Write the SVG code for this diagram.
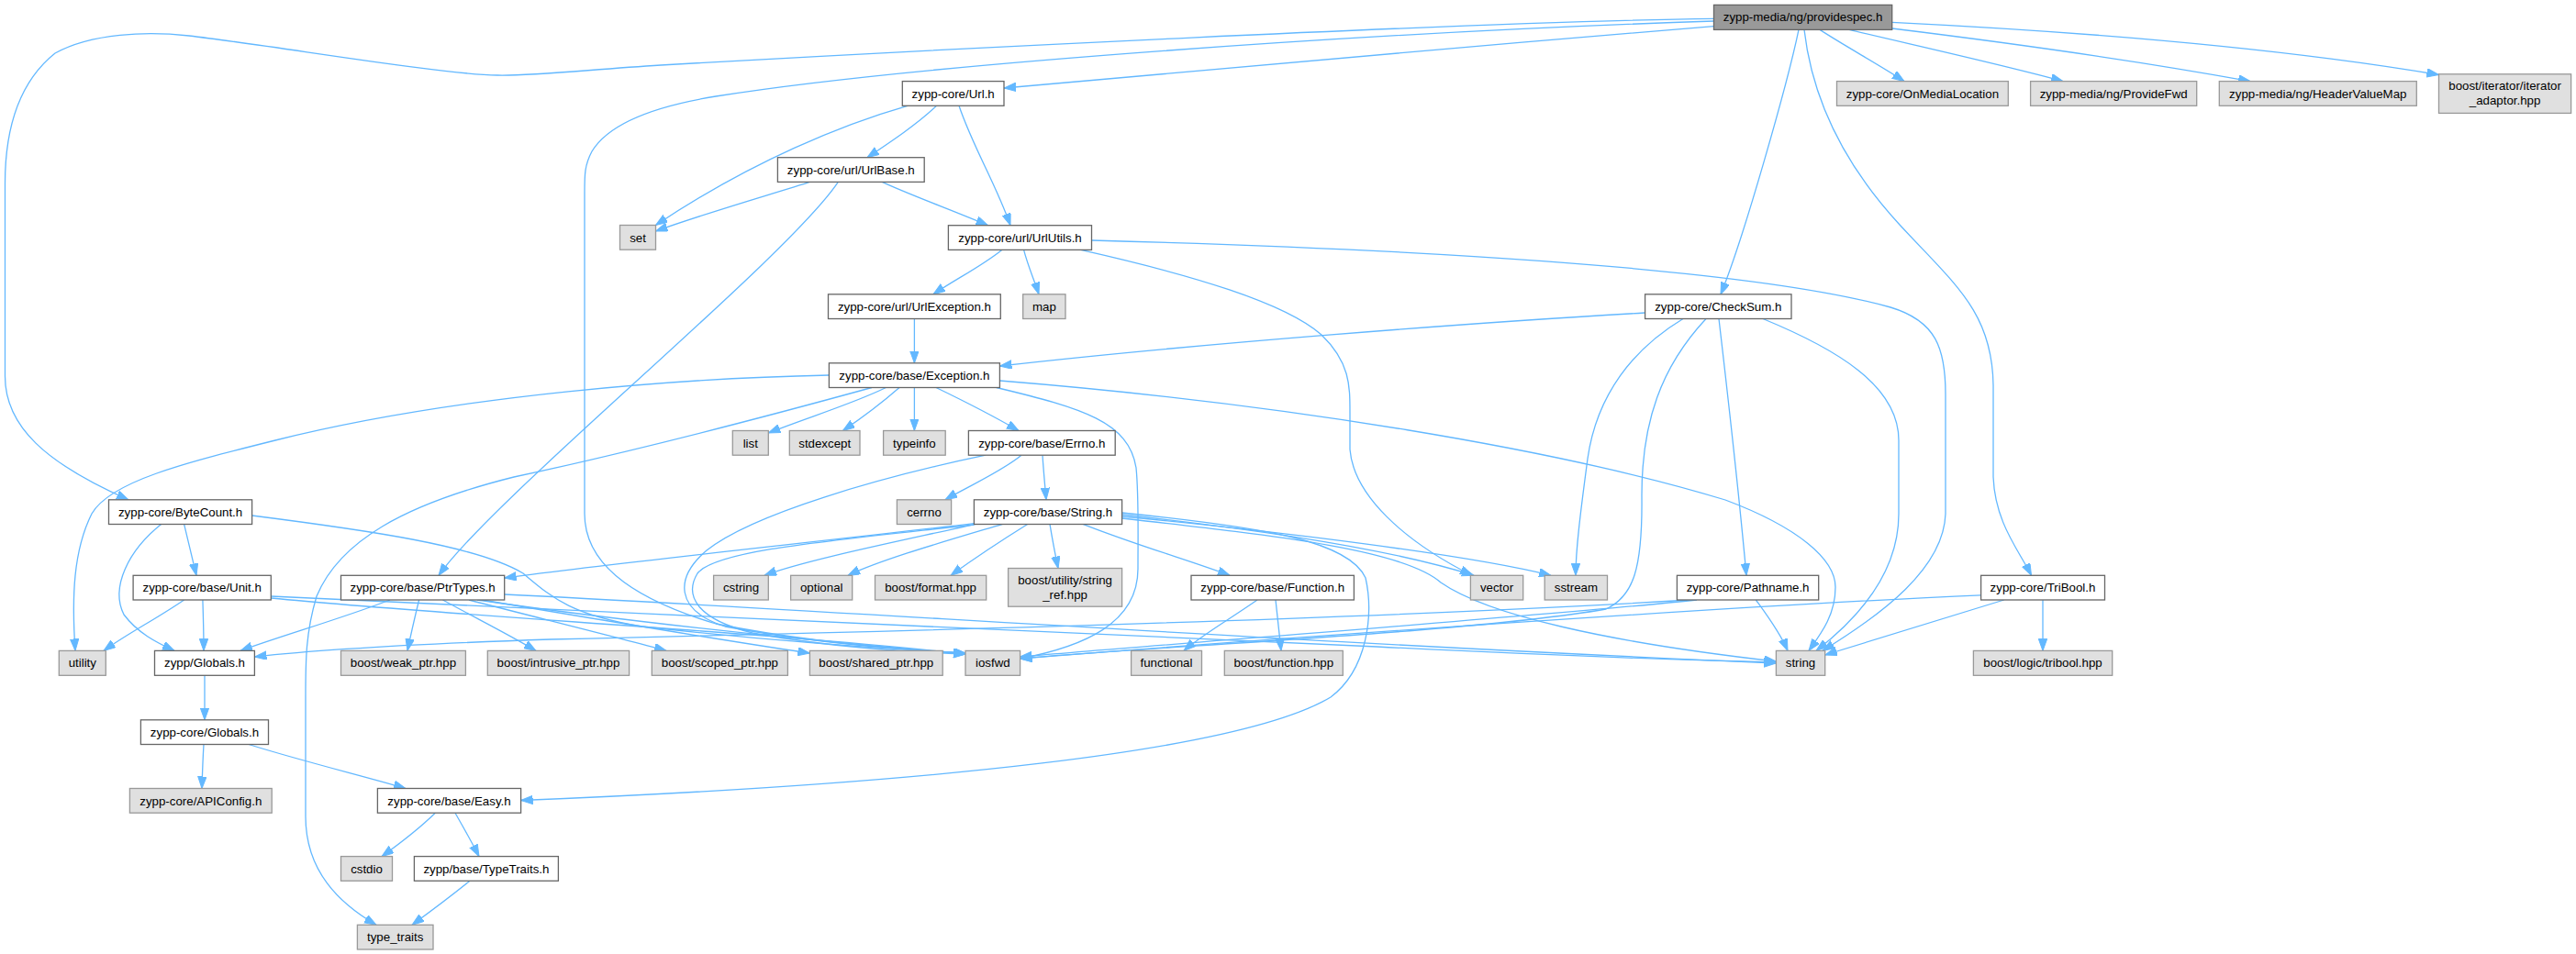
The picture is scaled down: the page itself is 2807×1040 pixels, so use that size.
<svg xmlns="http://www.w3.org/2000/svg" width="2807" height="1040" viewBox="0 0 2807 1040">
<style>
.e{fill:none;stroke:#63b8ff;stroke-width:1.3;marker-end:url(#a)}
.n{fill:#ffffff;stroke:#666666;stroke-width:1.3}
.x{fill:#e0e0e0;stroke:#999999;stroke-width:1.3}
.r{fill:#999999;stroke:#666666;stroke-width:1.3}
text{font-family:"Liberation Sans",Arial,sans-serif;font-size:13.3px;fill:#000000;text-anchor:middle}
</style>
<defs>
<marker id="a" markerUnits="userSpaceOnUse" markerWidth="14" markerHeight="10" refX="13" refY="4.7" orient="auto"><path d="M0,0 L13,4.7 L0,9.4 z" fill="#63b8ff" stroke="#63b8ff" stroke-width="1"/></marker>
</defs>
<rect width="2807" height="1040" fill="#ffffff"/>
<g id="edges">
<path class="e" d="M1867.5,20.3 C1600,24 1000,55 720,71 C640,76 580,83 542,82 C480,81 300,50 206,39 C160,34 100,36 60,58 C20,90 5.5,140 5.5,200 L5.5,410 C5.5,465 50,505 140,544.8"/>
<path class="e" d="M1867.5,28.7 C1600,50 1300,78 1094,96"/>
<path class="e" d="M1867.5,23 C1500,35 1000,70 780,105 C700,118 660,140 645,165 C637,180 637,190 637,210 L637,560 C637,610 680,650 780,680 C880,700 980,708 1052,712"/>
<path class="e" d="M1960,32.4 C1948,90 1900,260 1875,320.8"/>
<path class="e" d="M1983,32.4 C2010,50 2050,72 2075,88.6"/>
<path class="e" d="M2015,32.4 C2080,48 2180,70 2248,88.6"/>
<path class="e" d="M2061.7,31 C2200,48 2350,70 2452,88.6"/>
<path class="e" d="M2061.7,24.3 C2300,36 2500,55 2657.5,81.5"/>
<path class="e" d="M1966,32.4 C1975,110 2010,180 2070,245 C2130,310 2171,340 2172,420 L2172,520 C2174,570 2200,600 2213.5,627.3"/>
<path class="e" d="M989,115.3 C920,135 820,175 714.5,245.5"/>
<path class="e" d="M1020.5,115.3 C1000,135 970,155 945,171.7"/>
<path class="e" d="M1045,115.3 C1060,160 1085,200 1101,245.7"/>
<path class="e" d="M886,197.4 C830,215 770,232 714.5,252"/>
<path class="e" d="M959,197.4 C990,212 1040,230 1076.5,245.7"/>
<path class="e" d="M914,197.4 C860,280 540,540 478,627.3"/>
<path class="e" d="M1091.7,272.4 C1070,290 1040,305 1017,320.8"/>
<path class="e" d="M1115.6,272.4 C1120,290 1127,305 1132,320.8"/>
<path class="e" d="M1177.6,272.4 C1300,300 1400,330 1440,365 C1471,395 1471,420 1471,450 L1471,490 C1475,540 1530,590 1604,627.3"/>
<path class="e" d="M1189.5,262 C1500,270 1900,290 2060,335 C2110,350 2120,380 2120,430 L2120,560 C2118,620 2050,670 1986,709.4"/>
<path class="e" d="M996.4,347.5 L996.4,395.8"/>
<path class="e" d="M1792.6,341 C1600,352 1300,375 1089.4,399"/>
<path class="e" d="M1834,347.5 C1780,380 1740,430 1730,500 C1722,560 1717,600 1717,627.3"/>
<path class="e" d="M1859,347.5 C1810,400 1789,460 1789,540 C1790,620 1780,650 1750,664 C1600,690 1250,705 1111.6,718"/>
<path class="e" d="M1873,347.5 C1885,450 1895,540 1903,627.3"/>
<path class="e" d="M1921,347.5 C2000,380 2069,420 2069,480 L2069,560 C2069,620 2030,670 1979,709.4"/>
<path class="e" d="M903.4,409 C750,412 500,430 300,480 C200,505 120,525 100,560 C80,600 78,650 82,709.4"/>
<path class="e" d="M950,422.5 C850,450 700,490 560,520 C440,550 370,590 345,650 C333,690 333,720 333,760 L333,890 C333,950 370,985 410,1008.3"/>
<path class="e" d="M965.4,422.5 C930,440 880,455 837.3,472"/>
<path class="e" d="M980,422.5 C960,440 940,455 918.5,469.5"/>
<path class="e" d="M996.4,422.5 L996.4,469.5"/>
<path class="e" d="M1020,422.5 C1050,437 1085,455 1110,469.5"/>
<path class="e" d="M1085.7,422.5 C1180,445 1230,460 1238,510 C1241,540 1240,580 1240,620 C1240,680 1180,705 1111.6,718"/>
<path class="e" d="M1089.4,415 C1400,440 1700,490 1880,545 C1960,575 2000,610 2000,640 C2000,670 1985,690 1971,709.4"/>
<path class="e" d="M1113,496.2 C1090,515 1055,530 1030,544.8"/>
<path class="e" d="M1136,496.2 C1137,512 1138.5,528 1140,544.8"/>
<path class="e" d="M1074,496.2 C960,520 820,560 770,600 C735,630 735,665 790,683 C880,700 980,708 1052,712"/>
<path class="e" d="M1061.4,570.6 C900,590 700,610 549.7,630"/>
<path class="e" d="M1061.4,572 C900,590 780,600 760,625 C745,650 760,675 820,690 C900,705 980,710 1052,713"/>
<path class="e" d="M1063,571.3 C980,590 880,610 833,627.3"/>
<path class="e" d="M1092.6,571.3 C1030,590 960,610 924,627.3"/>
<path class="e" d="M1120,571.3 C1090,590 1060,610 1036,627.3"/>
<path class="e" d="M1144,571.3 C1147,590 1150,605 1153,619.5"/>
<path class="e" d="M1180,571.3 C1240,595 1300,612 1340,627.3"/>
<path class="e" d="M1222.6,561 C1380,578 1520,600 1606,627.3"/>
<path class="e" d="M1222.6,563 C1400,580 1600,605 1690,627.3"/>
<path class="e" d="M1222.6,565 C1400,585 1530,600 1570,635 C1620,670 1750,700 1935.4,721"/>
<path class="e" d="M1222.6,559 C1380,575 1470,590 1488,630 C1497,670 1490,730 1450,760 C1350,820 1000,855 567.6,872.5"/>
<path class="e" d="M200.6,571.3 C205,590 210,610 214,627.3"/>
<path class="e" d="M175.9,571.3 C140,600 120,640 135,670 C150,690 170,700 190,709.4"/>
<path class="e" d="M274.6,562 C400,578 520,595 570,625 C600,650 620,670 700,683 C850,700 960,707 1052,712"/>
<path class="e" d="M200.6,654 C170,675 140,690 113,709.4"/>
<path class="e" d="M220.9,654 C221.5,672 222,690 222,709.4"/>
<path class="e" d="M295.3,652 C500,672 850,690 1052,713"/>
<path class="e" d="M295.3,650 C700,670 1200,690 1500,705 C1700,715 1850,720 1935.4,722"/>
<path class="e" d="M425,654 C370,675 310,692 262,709.4"/>
<path class="e" d="M456.6,654 C452,673 448,690 444,709.4"/>
<path class="e" d="M482.5,654 C515,672 555,692 584,709.4"/>
<path class="e" d="M511,654 C580,672 670,694 726,709.4"/>
<path class="e" d="M525.5,654 C650,675 800,700 882.3,712"/>
<path class="e" d="M520,654 C700,680 900,700 1052,713"/>
<path class="e" d="M549.7,648 C900,665 1400,700 1935.4,723"/>
<path class="e" d="M1370,654 C1340,675 1310,692 1290,709.4"/>
<path class="e" d="M1390,654 C1392,673 1394,690 1396,709.4"/>
<path class="e" d="M1849,654 C1700,670 1300,700 1111.6,716"/>
<path class="e" d="M1913.4,654 C1925,670 1940,690 1948,709.4"/>
<path class="e" d="M1842,654 C1500,675 1000,688 600,697 C450,702 350,708 277.4,716"/>
<path class="e" d="M2226,654 L2226,709.4"/>
<path class="e" d="M2158.6,648.8 C1900,660 1400,695 1111.6,718"/>
<path class="e" d="M2183.7,654 C2100,680 2040,698 1988.7,714"/>
<path class="e" d="M223,736.3 L223,784.8"/>
<path class="e" d="M222,811.5 C221,828 220.5,843 220,859.5"/>
<path class="e" d="M271,811.5 C330,830 400,847 442,859.5"/>
<path class="e" d="M474.3,886.2 C455,905 435,920 416,933.6"/>
<path class="e" d="M496,886.2 C505,902 514,918 522,933.6"/>
<path class="e" d="M512,960.3 C490,978 470,993 449,1008.3"/>
</g>
<g id="n_providespec"><rect class="r" x="1867.5" y="5.4" width="194.2" height="27"/><text x="1964.6" y="23.4">zypp-media/ng/providespec.h</text></g>
<g id="n_url"><rect class="n" x="983.3" y="88.6" width="110.7" height="26.7"/><text x="1038.7" y="106.6">zypp-core/Url.h</text></g>
<g id="n_onmedialocation"><rect class="x" x="2001.5" y="88.6" width="186.8" height="26.7"/><text x="2094.9" y="106.6">zypp-core/OnMediaLocation</text></g>
<g id="n_providefwd"><rect class="x" x="2212.6" y="88.6" width="181.1" height="26.7"/><text x="2303.2" y="106.6">zypp-media/ng/ProvideFwd</text></g>
<g id="n_headervaluemap"><rect class="x" x="2418.3" y="88.6" width="215" height="26.7"/><text x="2525.8" y="106.6">zypp-media/ng/HeaderValueMap</text></g>
<g id="n_iterator_adaptor"><rect class="x" x="2657.5" y="80.8" width="144.1" height="42.6"/><text x="2729.6" y="97.5">boost/iterator/iterator</text><text x="2729.6" y="113.5">_adaptor.hpp</text></g>
<g id="n_urlbase"><rect class="n" x="847.4" y="171.7" width="159.8" height="26.7"/><text x="927.3" y="189.7">zypp-core/url/UrlBase.h</text></g>
<g id="n_set"><rect class="x" x="675.5" y="245.5" width="39" height="26.7"/><text x="695" y="263.5">set</text></g>
<g id="n_urlutils"><rect class="n" x="1033.4" y="245.7" width="156.1" height="26.7"/><text x="1111.5" y="263.7">zypp-core/url/UrlUtils.h</text></g>
<g id="n_urlexception"><rect class="n" x="902.5" y="320.8" width="187.8" height="26.7"/><text x="996.4" y="338.8">zypp-core/url/UrlException.h</text></g>
<g id="n_map"><rect class="x" x="1114.7" y="320.8" width="46.3" height="26.7"/><text x="1137.9" y="338.8">map</text></g>
<g id="n_checksum"><rect class="n" x="1792.6" y="320.8" width="159.4" height="26.7"/><text x="1872.3" y="338.8">zypp-core/CheckSum.h</text></g>
<g id="n_exception"><rect class="n" x="903.4" y="395.8" width="186" height="26.7"/><text x="996.4" y="413.8">zypp-core/base/Exception.h</text></g>
<g id="n_list"><rect class="x" x="798.3" y="469.5" width="39" height="26.7"/><text x="817.8" y="487.5">list</text></g>
<g id="n_stdexcept"><rect class="x" x="860.3" y="469.5" width="76.7" height="26.7"/><text x="898.7" y="487.5">stdexcept</text></g>
<g id="n_typeinfo"><rect class="x" x="962.6" y="469.5" width="67.6" height="26.7"/><text x="996.4" y="487.5">typeinfo</text></g>
<g id="n_errno"><rect class="n" x="1055.4" y="469.5" width="159.8" height="26.7"/><text x="1135.3" y="487.5">zypp-core/base/Errno.h</text></g>
<g id="n_bytecount"><rect class="n" x="118.5" y="544.8" width="156.1" height="26.7"/><text x="196.6" y="562.8">zypp-core/ByteCount.h</text></g>
<g id="n_cerrno"><rect class="x" x="977.4" y="544.8" width="59.2" height="26.7"/><text x="1007" y="562.8">cerrno</text></g>
<g id="n_string_h"><rect class="n" x="1061.4" y="544.8" width="161.2" height="26.7"/><text x="1142" y="562.8">zypp-core/base/String.h</text></g>
<g id="n_unit"><rect class="n" x="145.1" y="627.3" width="150.2" height="26.7"/><text x="220.2" y="645.3">zypp-core/base/Unit.h</text></g>
<g id="n_ptrtypes"><rect class="n" x="371.5" y="627.3" width="178.2" height="26.7"/><text x="460.6" y="645.3">zypp-core/base/PtrTypes.h</text></g>
<g id="n_cstring"><rect class="x" x="777.6" y="627.3" width="59.7" height="26.7"/><text x="807.5" y="645.3">cstring</text></g>
<g id="n_optional"><rect class="x" x="861.6" y="627.3" width="67.1" height="26.7"/><text x="895.2" y="645.3">optional</text></g>
<g id="n_format"><rect class="x" x="953.5" y="627.3" width="121.2" height="26.7"/><text x="1014.1" y="645.3">boost/format.hpp</text></g>
<g id="n_string_ref"><rect class="x" x="1098.6" y="619.5" width="124" height="41.7"/><text x="1160.6" y="636.5">boost/utility/string</text><text x="1160.6" y="652.5">_ref.hpp</text></g>
<g id="n_function_h"><rect class="n" x="1298" y="627.3" width="177.4" height="26.7"/><text x="1386.7" y="645.3">zypp-core/base/Function.h</text></g>
<g id="n_vector"><rect class="x" x="1602.4" y="627.3" width="57.3" height="26.7"/><text x="1631" y="645.3">vector</text></g>
<g id="n_sstream"><rect class="x" x="1683.2" y="627.3" width="68.3" height="26.7"/><text x="1717.4" y="645.3">sstream</text></g>
<g id="n_pathname"><rect class="n" x="1827.4" y="627.3" width="154.3" height="26.7"/><text x="1904.6" y="645.3">zypp-core/Pathname.h</text></g>
<g id="n_tribool_h"><rect class="n" x="2158.6" y="627.3" width="134.9" height="26.7"/><text x="2226" y="645.3">zypp-core/TriBool.h</text></g>
<g id="n_utility"><rect class="x" x="64.3" y="709.4" width="51" height="26.9"/><text x="89.8" y="727.4">utility</text></g>
<g id="n_zypp_globals"><rect class="n" x="168.5" y="709.4" width="108.9" height="26.9"/><text x="223" y="727.4">zypp/Globals.h</text></g>
<g id="n_weak_ptr"><rect class="x" x="371.5" y="709.4" width="135.9" height="26.9"/><text x="439.4" y="727.4">boost/weak_ptr.hpp</text></g>
<g id="n_intrusive_ptr"><rect class="x" x="531.3" y="709.4" width="154.3" height="26.9"/><text x="608.5" y="727.4">boost/intrusive_ptr.hpp</text></g>
<g id="n_scoped_ptr"><rect class="x" x="710.3" y="709.4" width="148.1" height="26.9"/><text x="784.4" y="727.4">boost/scoped_ptr.hpp</text></g>
<g id="n_shared_ptr"><rect class="x" x="882.4" y="709.4" width="144.8" height="26.9"/><text x="954.8" y="727.4">boost/shared_ptr.hpp</text></g>
<g id="n_iosfwd"><rect class="x" x="1052" y="709.4" width="59.6" height="26.9"/><text x="1081.8" y="727.4">iosfwd</text></g>
<g id="n_functional"><rect class="x" x="1232.6" y="709.4" width="76.9" height="26.9"/><text x="1271" y="727.4">functional</text></g>
<g id="n_function_hpp"><rect class="x" x="1334.3" y="709.4" width="129" height="26.9"/><text x="1398.8" y="727.4">boost/function.hpp</text></g>
<g id="n_string"><rect class="x" x="1935.4" y="709.4" width="53.3" height="26.9"/><text x="1962" y="727.4">string</text></g>
<g id="n_tribool_hpp"><rect class="x" x="2150.4" y="709.4" width="151.3" height="26.9"/><text x="2226" y="727.4">boost/logic/tribool.hpp</text></g>
<g id="n_core_globals"><rect class="n" x="153.4" y="784.8" width="139.1" height="26.7"/><text x="223" y="802.8">zypp-core/Globals.h</text></g>
<g id="n_apiconfig"><rect class="x" x="141.4" y="859.5" width="154.8" height="26.7"/><text x="218.8" y="877.5">zypp-core/APIConfig.h</text></g>
<g id="n_easy"><rect class="n" x="411.4" y="859.5" width="156.2" height="26.7"/><text x="489.5" y="877.5">zypp-core/base/Easy.h</text></g>
<g id="n_cstdio"><rect class="x" x="371.5" y="933.6" width="56" height="26.7"/><text x="399.5" y="951.6">cstdio</text></g>
<g id="n_typetraits_h"><rect class="n" x="451.4" y="933.6" width="157" height="26.7"/><text x="529.9" y="951.6">zypp/base/TypeTraits.h</text></g>
<g id="n_type_traits"><rect class="x" x="389.4" y="1008.3" width="82.6" height="26.7"/><text x="430.7" y="1026.3">type_traits</text></g>
</svg>
